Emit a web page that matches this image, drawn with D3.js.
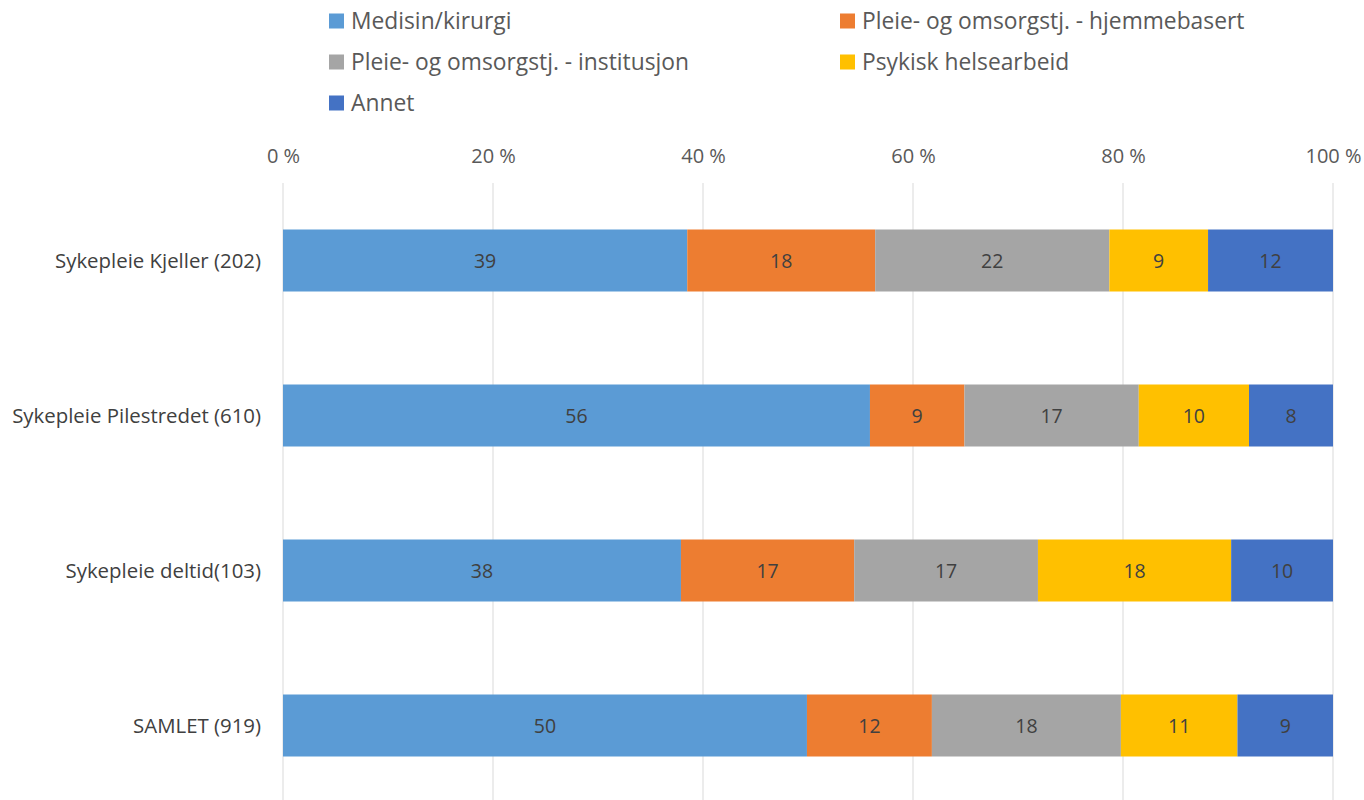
<!DOCTYPE html>
<html><head><meta charset="utf-8">
<script src="https://cdn.jsdelivr.net/npm/d3@7"></script>
<style>body{margin:0;background:#fff}svg{display:block}</style>
</head><body>
<svg id="c" width="1364" height="800"></svg>
<script>
const categories = ["Sykepleie Kjeller (202)", "Sykepleie Pilestredet (610)", "Sykepleie deltid(103)", "SAMLET (919)"];
const seriesNames = ["Medisin/kirurgi", "Pleie- og omsorgstj. - hjemmebasert", "Pleie- og omsorgstj. - institusjon", "Psykisk helsearbeid", "Annet"];
const seriesColors = ["#5B9BD5", "#ED7D31", "#A5A5A5", "#FFC000", "#4472C4"];
const medisin     = [38.5, 55.9, 37.9, 49.9];
const hjemme      = [17.9,  9.0, 16.5, 11.9];
const institusjon = [22.3, 16.6, 17.5, 18.0];
const psykisk     = [ 9.4, 10.5, 18.4, 11.1];
const annet       = [11.9,  8.0,  9.7,  9.1];
const labels = [
  [39, 18, 22, 9, 12],
  [56, 9, 17, 10, 8],
  [38, 17, 17, 18, 10],
  [50, 12, 18, 11, 9]
];
const ticks = [0, 20, 40, 60, 80, 100];

const seriesVals = [medisin, hjemme, institusjon, psykisk, annet];
const rows = categories.map((c, i) => {
  const o = {cat: c};
  seriesNames.forEach((s, j) => o[s] = seriesVals[j][i]);
  return o;
});
const stack = d3.stack().keys(seriesNames).offset(d3.stackOffsetExpand)(rows);

const svg = d3.select("#c");
const font = "'Open Sans', sans-serif";
const x = d3.scaleLinear().domain([0, 1]).range([283, 1333]);
const y = d3.scaleBand().domain(categories).range([183, 803]).paddingInner(0.6).paddingOuter(0.3);

// gridlines
svg.append("g").selectAll("line").data(ticks).join("line")
  .attr("x1", d => x(d / 100)).attr("x2", d => x(d / 100))
  .attr("y1", 183).attr("y2", 800)
  .attr("stroke", "#D9D9D9").attr("stroke-width", 1);

// tick labels
const xAxis = d3.axisTop(x).tickValues(ticks.map(t => t / 100)).tickSize(0).tickPadding(0)
  .tickFormat(d => Math.round(d * 100) + " %");
const ax = svg.append("g").attr("transform", "translate(0,156)").call(xAxis);
ax.select(".domain").remove();
ax.selectAll("text").attr("font-family", font).attr("font-size", 20).attr("fill", "#595959")
  .attr("dy", "0.35em");

// bars
const g = svg.append("g");
stack.forEach((layer, j) => {
  g.append("g").attr("fill", seriesColors[j]).selectAll("rect").data(layer).join("rect")
    .attr("x", d => x(d[0])).attr("width", d => x(d[1]) - x(d[0]))
    .attr("y", d => y(d.data.cat)).attr("height", y.bandwidth());
  g.append("g").selectAll("text").data(layer).join("text")
    .attr("x", d => (x(d[0]) + x(d[1])) / 2)
    .attr("y", d => y(d.data.cat) + y.bandwidth() / 2 + 1)
    .attr("dy", "0.35em").attr("text-anchor", "middle")
    .attr("font-family", font).attr("font-size", 19.5).attr("fill", "#404040")
    .text((d, i) => labels[i][j]);
});

// category labels
const yAxis = d3.axisLeft(y).tickSize(0).tickPadding(0);
const ay = svg.append("g").attr("transform", "translate(261,1)").call(yAxis);
ay.select(".domain").remove();
ay.selectAll("text").attr("font-family", font).attr("font-size", 20.4).attr("fill", "#404040");

// legend
const legPos = [[329, 21], [840, 21], [329, 62], [840, 62], [329, 103]];
const leg = svg.append("g").selectAll("g").data(seriesNames).join("g")
  .attr("transform", (d, i) => `translate(${legPos[i][0]},${legPos[i][1]})`);
leg.append("rect").attr("x", 0).attr("y", -7.5).attr("width", 15).attr("height", 15)
  .attr("fill", (d, i) => seriesColors[i]);
leg.append("text").attr("x", 22).attr("dy", "0.35em")
  .attr("font-family", font).attr("font-size", 22.8).attr("fill", "#595959").text(d => d);
</script>
</body></html>
